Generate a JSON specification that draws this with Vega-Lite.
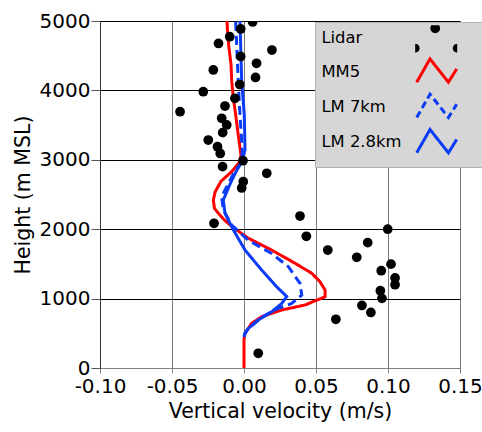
{
  "$schema": "https://vega.github.io/schema/vega-lite/v6.json",
  "width": 360,
  "height": 347,
  "autosize": {"type": "none"},
  "padding": {"left": 100, "top": 21, "right": 22, "bottom": 64},
  "background": "white",
  "config": {
    "font": "DejaVu Sans",
    "view": {"stroke": null}
  },
  "datasets": {
    "models": [
      {"series": "MM5", "h": 5000, "w": -0.0118},
      {"series": "MM5", "h": 4800, "w": -0.0113},
      {"series": "MM5", "h": 4610, "w": -0.0104},
      {"series": "MM5", "h": 4370, "w": -0.0090},
      {"series": "MM5", "h": 4130, "w": -0.0085},
      {"series": "MM5", "h": 3890, "w": -0.0074},
      {"series": "MM5", "h": 3650, "w": -0.0058},
      {"series": "MM5", "h": 3360, "w": -0.0040},
      {"series": "MM5", "h": 3070, "w": -0.0021},
      {"series": "MM5", "h": 2970, "w": -0.0030},
      {"series": "MM5", "h": 2830, "w": -0.0085},
      {"series": "MM5", "h": 2690, "w": -0.0160},
      {"series": "MM5", "h": 2540, "w": -0.0200},
      {"series": "MM5", "h": 2420, "w": -0.0213},
      {"series": "MM5", "h": 2300, "w": -0.0205},
      {"series": "MM5", "h": 2230, "w": -0.0178},
      {"series": "MM5", "h": 2130, "w": -0.0135},
      {"series": "MM5", "h": 2040, "w": -0.0085},
      {"series": "MM5", "h": 1870, "w": 0.0030},
      {"series": "MM5", "h": 1700, "w": 0.0192},
      {"series": "MM5", "h": 1510, "w": 0.0354},
      {"series": "MM5", "h": 1365, "w": 0.0470},
      {"series": "MM5", "h": 1250, "w": 0.0525},
      {"series": "MM5", "h": 1124, "w": 0.0563},
      {"series": "MM5", "h": 1027, "w": 0.0563},
      {"series": "MM5", "h": 908, "w": 0.0424},
      {"series": "MM5", "h": 836, "w": 0.0262},
      {"series": "MM5", "h": 739, "w": 0.0123},
      {"series": "MM5", "h": 644, "w": 0.0053},
      {"series": "MM5", "h": 500, "w": 0.0007},
      {"series": "MM5", "h": 410, "w": 0.0},
      {"series": "MM5", "h": 0, "w": 0.0},
      {"series": "LM 2.8km", "h": 5000, "w": -0.0028},
      {"series": "LM 2.8km", "h": 4130, "w": -0.0016},
      {"series": "LM 2.8km", "h": 3650, "w": 0.0002},
      {"series": "LM 2.8km", "h": 3140, "w": 0.0007},
      {"series": "LM 2.8km", "h": 2970, "w": -0.0016},
      {"series": "LM 2.8km", "h": 2830, "w": -0.0055},
      {"series": "LM 2.8km", "h": 2660, "w": -0.0095},
      {"series": "LM 2.8km", "h": 2420, "w": -0.0144},
      {"series": "LM 2.8km", "h": 2230, "w": -0.0132},
      {"series": "LM 2.8km", "h": 1990, "w": -0.0074},
      {"series": "LM 2.8km", "h": 1700, "w": 0.0007},
      {"series": "LM 2.8km", "h": 1410, "w": 0.0123},
      {"series": "LM 2.8km", "h": 1170, "w": 0.0227},
      {"series": "LM 2.8km", "h": 1030, "w": 0.0297},
      {"series": "LM 2.8km", "h": 930, "w": 0.0262},
      {"series": "LM 2.8km", "h": 810, "w": 0.0192},
      {"series": "LM 2.8km", "h": 690, "w": 0.0099},
      {"series": "LM 2.8km", "h": 570, "w": 0.0030},
      {"series": "LM 2.8km", "h": 500, "w": 0.0007},
      {"series": "LM 2.8km", "h": 450, "w": 0.0},
      {"series": "LM 7km", "h": 5000, "w": -0.0058},
      {"series": "LM 7km", "h": 4130, "w": -0.0040},
      {"series": "LM 7km", "h": 3650, "w": -0.0028},
      {"series": "LM 7km", "h": 3140, "w": -0.0012},
      {"series": "LM 7km", "h": 2970, "w": -0.0016},
      {"series": "LM 7km", "h": 2830, "w": -0.0065},
      {"series": "LM 7km", "h": 2660, "w": -0.0109},
      {"series": "LM 7km", "h": 2470, "w": -0.0155},
      {"series": "LM 7km", "h": 2280, "w": -0.0144},
      {"series": "LM 7km", "h": 2060, "w": -0.0085},
      {"series": "LM 7km", "h": 1840, "w": 0.0030},
      {"series": "LM 7km", "h": 1650, "w": 0.0192},
      {"series": "LM 7km", "h": 1460, "w": 0.0308},
      {"series": "LM 7km", "h": 1220, "w": 0.0389},
      {"series": "LM 7km", "h": 1050, "w": 0.0401},
      {"series": "LM 7km", "h": 930, "w": 0.0331},
      {"series": "LM 7km", "h": 860, "w": 0.0238},
      {"series": "LM 7km", "h": 760, "w": 0.0146},
      {"series": "LM 7km", "h": 690, "w": 0.0099},
      {"series": "LM 7km", "h": 570, "w": 0.0030},
      {"series": "LM 7km", "h": 500, "w": 0.0007},
      {"series": "LM 7km", "h": 450, "w": 0.0}
    ],
    "lidar": [
      {"series": "Lidar", "w": 0.0060, "h": 4986},
      {"series": "Lidar", "w": -0.0023, "h": 4885},
      {"series": "Lidar", "w": -0.0099, "h": 4774},
      {"series": "Lidar", "w": -0.0177, "h": 4676},
      {"series": "Lidar", "w": 0.0194, "h": 4582},
      {"series": "Lidar", "w": -0.0023, "h": 4489},
      {"series": "Lidar", "w": 0.0087, "h": 4391},
      {"series": "Lidar", "w": -0.0213, "h": 4294},
      {"series": "Lidar", "w": 0.0080, "h": 4186},
      {"series": "Lidar", "w": -0.0030, "h": 4085},
      {"series": "Lidar", "w": -0.0283, "h": 3981},
      {"series": "Lidar", "w": -0.0063, "h": 3886},
      {"series": "Lidar", "w": -0.0132, "h": 3775},
      {"series": "Lidar", "w": -0.0444, "h": 3693},
      {"series": "Lidar", "w": -0.0155, "h": 3598},
      {"series": "Lidar", "w": -0.0120, "h": 3502},
      {"series": "Lidar", "w": -0.0148, "h": 3391},
      {"series": "Lidar", "w": -0.0248, "h": 3285},
      {"series": "Lidar", "w": -0.0184, "h": 3189},
      {"series": "Lidar", "w": -0.0165, "h": 3091},
      {"series": "Lidar", "w": -0.0007, "h": 2987},
      {"series": "Lidar", "w": -0.0149, "h": 2901},
      {"series": "Lidar", "w": 0.0158, "h": 2806},
      {"series": "Lidar", "w": -0.0005, "h": 2685},
      {"series": "Lidar", "w": -0.0016, "h": 2594},
      {"series": "Lidar", "w": 0.0389, "h": 2190},
      {"series": "Lidar", "w": -0.0208, "h": 2085},
      {"series": "Lidar", "w": 0.0998, "h": 2000},
      {"series": "Lidar", "w": 0.0433, "h": 1898},
      {"series": "Lidar", "w": 0.0859, "h": 1806},
      {"series": "Lidar", "w": 0.0582, "h": 1700},
      {"series": "Lidar", "w": 0.0783, "h": 1595},
      {"series": "Lidar", "w": 0.1021, "h": 1496},
      {"series": "Lidar", "w": 0.0953, "h": 1402},
      {"series": "Lidar", "w": 0.1049, "h": 1297},
      {"series": "Lidar", "w": 0.1049, "h": 1200},
      {"series": "Lidar", "w": 0.0947, "h": 1114},
      {"series": "Lidar", "w": 0.0958, "h": 1004},
      {"series": "Lidar", "w": 0.0819, "h": 901},
      {"series": "Lidar", "w": 0.0881, "h": 800},
      {"series": "Lidar", "w": 0.0638, "h": 702},
      {"series": "Lidar", "w": 0.0099, "h": 212}
    ]
  },
  "encoding": {
    "x": {
      "field": "w", "type": "quantitative",
      "scale": {"domain": [-0.1, 0.15], "nice": false, "zero": false},
      "axis": {
        "values": [-0.1, -0.05, 0, 0.05, 0.1, 0.15],
        "labelExpr": "datum.value < 0 ? '-' + format(-datum.value, '.2f') : format(datum.value, '.2f')",
        "title": "Vertical velocity (m/s)",
        "titleFontSize": 20.5, "titleFontWeight": "normal", "titleColor": "black", "titlePadding": 5,
        "labelFontSize": 20, "labelColor": "black", "labelPadding": 3, "labelFlush": false, "labelOverlap": false,
        "tickSize": 5, "tickColor": "#808080", "domainColor": "#808080",
        "grid": true, "gridColor": "#7a7a7a", "gridOpacity": 1, "gridWidth": 1
      }
    },
    "y": {
      "field": "h", "type": "quantitative",
      "scale": {"domain": [0, 5000], "nice": false},
      "axis": {
        "values": [0, 1000, 2000, 3000, 4000, 5000],
        "format": "d",
        "title": "Height (m MSL)",
        "titleFontSize": 20.5, "titleFontWeight": "normal", "titleColor": "black", "titlePadding": 6,
        "labelFontSize": 20, "labelColor": "black", "labelPadding": 1, "labelFlush": false, "labelOverlap": false,
        "tickSize": 9, "tickColor": "#555555", "domainColor": "#333333",
        "grid": true, "gridColor": "#000000", "gridOpacity": 1, "gridWidth": 1
      }
    }
  },
  "layer": [
    {
      "data": {"name": "models"},
      "mark": {"type": "line", "strokeWidth": 3, "clip": true},
      "encoding": {
        "order": {"field": "h", "type": "quantitative"},
        "color": {
          "field": "series", "type": "nominal",
          "scale": {"domain": ["Lidar", "MM5", "LM 7km", "LM 2.8km"], "range": ["#000000", "#ff0000", "#0a3cf5", "#0a3cf5"]},
          "legend": {
            "title": null,
            "orient": "none",
            "legendX": 215,
            "legendY": 1,
            "padding": 8,
            "fillColor": "#d6d6d6",
            "strokeColor": "#b4b4b4",
            "labelFont": "DejaVu Sans",
            "labelFontSize": 16.4,
            "labelColor": "black",
            "labelOffset": -123,
            "labelLimit": 300,
            "symbolOffset": 105,
            "symbolSize": 400,
            "symbolStrokeWidth": 3,
            "rowPadding": -0.7,
            "encode": {
              "symbols": {
                "update": {
                  "shape": {"signal": "datum.value === 'Lidar' ? 'M0.3,-1.3L0.4,-1.0L0.333,-0.75L0.15,-0.567L-0.1,-0.5L-0.35,-0.567L-0.533,-0.75L-0.6,-1.0L-0.5,-1.3Z M-2.1,0.55L-1.875,0.61L-1.71,0.775L-1.65,1.0L-1.71,1.225L-1.875,1.39L-2.1,1.45Z M2.1,0.55L1.875,0.61L1.71,0.775L1.65,1.0L1.71,1.225L1.875,1.39L2.1,1.45Z M3.6,0' : 'M-1.95,1.07L-0.62,-1.26L1.22,1.07L2.05,-0.26M3.6,0'"},
                  "fill": {"signal": "datum.value === 'Lidar' ? '#000000' : 'transparent'"},
                  "fillOpacity": {"signal": "datum.value === 'Lidar' ? 1 : 0"},
                  "stroke": {"signal": "datum.value === 'Lidar' ? '#000000' : (datum.value === 'MM5' ? '#ff0000' : '#0a3cf5')"},
                  "strokeDash": {"signal": "datum.value === 'LM 7km' ? [7, 4] : [1, 0]"},
                  "strokeWidth": {"signal": "datum.value === 'Lidar' ? 0 : 3"},
                  "size": {"value": 400},
                  "opacity": {"value": 1}
                }
              }
            }
          }
        },
        "strokeDash": {
          "field": "series", "type": "nominal",
          "scale": {"domain": ["MM5", "LM 7km", "LM 2.8km"], "range": [[1, 0], [9, 5], [1, 0]]},
          "legend": null
        }
      }
    },
    {
      "data": {"name": "lidar"},
      "mark": {"type": "circle", "size": 95, "opacity": 1, "clip": true},
      "encoding": {
        "color": {"field": "series", "type": "nominal"}
      }
    }
  ]
}
